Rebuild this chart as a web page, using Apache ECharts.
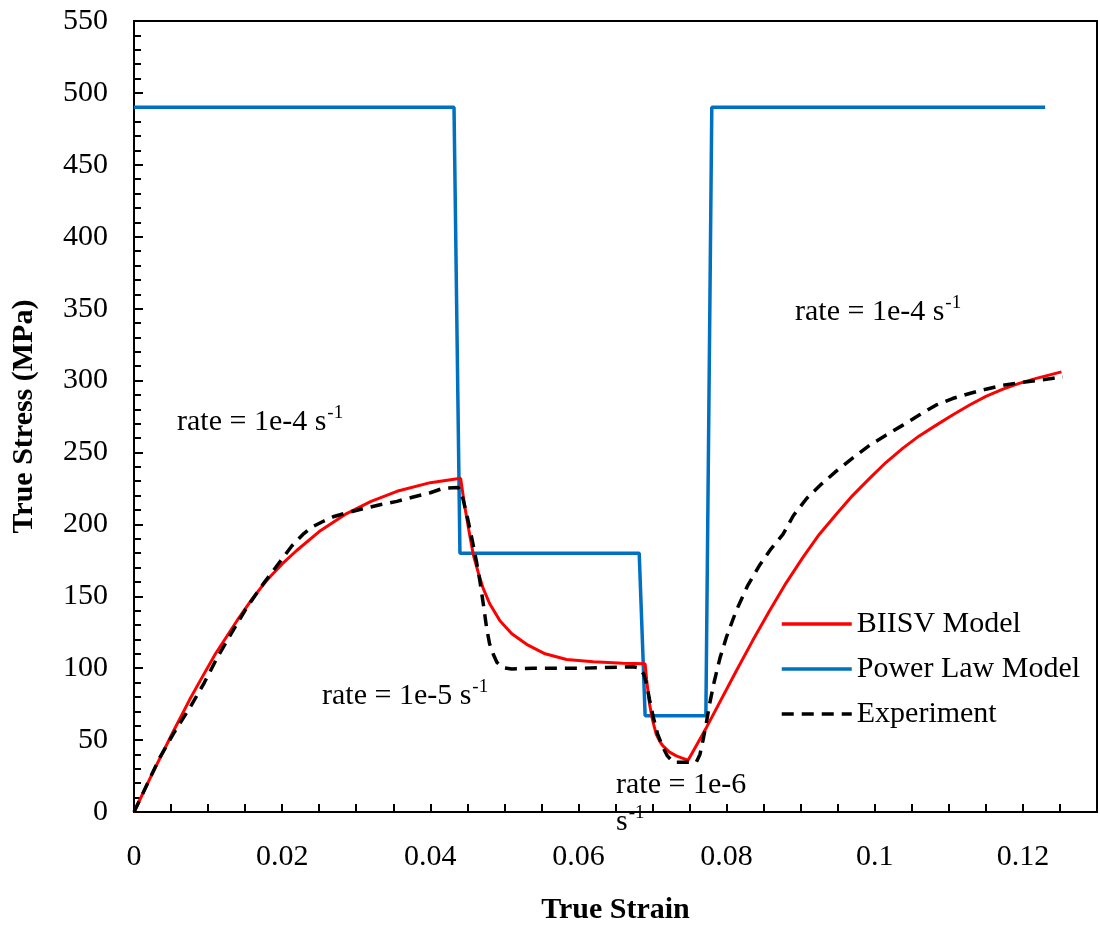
<!DOCTYPE html>
<html>
<head>
<meta charset="utf-8">
<script src="https://cdn.jsdelivr.net/npm/echarts@6/dist/echarts.min.js"></script>
<style>
html,body{margin:0;padding:0;background:#fff;}
#chart{width:1100px;height:930px;}
</style>
</head>
<body>
<div id="chart"></div>
<script>
// ---- Data ----
const biisvStrain = [0, 0.0025, 0.0053, 0.0075, 0.0089, 0.011, 0.0139, 0.016, 0.0179, 0.02, 0.022, 0.025, 0.0287, 0.032, 0.0355, 0.04, 0.0441,
  0.0446, 0.0452, 0.0458, 0.0465, 0.0471, 0.048, 0.0494, 0.051, 0.053, 0.0555, 0.0584, 0.062, 0.066, 0.069,
  0.0692, 0.0696, 0.07, 0.0705, 0.071, 0.0714, 0.0723, 0.0732, 0.074, 0.0748,
  0.0773, 0.0813, 0.0835, 0.0858, 0.088, 0.0903, 0.0925, 0.0948, 0.097, 0.0993, 0.1015, 0.1038, 0.106, 0.1083, 0.1105, 0.1128, 0.115, 0.1173, 0.1195, 0.1218, 0.1252];
const biisvStress = [0, 27, 56, 78, 91, 110, 133, 148.5, 161, 172.5, 182, 195, 207.5, 216, 223, 229, 232,
  214, 196, 179, 166, 156, 145, 133, 124, 116.6, 110, 106, 104.5, 103.5, 103,
  92, 75, 64, 54, 49, 46, 41.6, 39, 37.5, 36,
  59, 98, 119, 140, 159, 177, 193, 207, 220, 232, 243, 253, 261.5, 269, 276, 283, 289, 294, 298, 301.5, 306];

const powerStrain = [0, 0.0432, 0.044, 0.0682, 0.069, 0.0772, 0.078, 0.123];
const powerStress = [490, 490, 180, 180, 67, 67, 490, 490];

const expStrain = [0, 0.0035, 0.0055, 0.0076, 0.0095, 0.0112, 0.013, 0.0152, 0.0175, 0.0197, 0.0213, 0.0228, 0.024, 0.0255, 0.027, 0.0287, 0.031, 0.0332, 0.0355, 0.0377, 0.04, 0.0417, 0.0438,
  0.0441, 0.0444, 0.045, 0.0456, 0.0462, 0.0467, 0.0472, 0.0476, 0.048, 0.0485, 0.049, 0.0498, 0.051, 0.0539, 0.0606, 0.0674,
  0.0683, 0.0688, 0.0692, 0.0696, 0.0701, 0.0707, 0.0714, 0.072, 0.0728, 0.0759,
  0.0764, 0.0768, 0.0772, 0.0777, 0.0783, 0.0791, 0.08, 0.0813, 0.0828, 0.0845, 0.086, 0.0876, 0.089, 0.0908, 0.0928, 0.0948, 0.097, 0.0993, 0.1015, 0.1038, 0.106, 0.1083, 0.1105, 0.1128, 0.115, 0.1173, 0.1195, 0.1218, 0.1254];
const expStress = [0, 38, 56, 73, 90, 107, 123, 142, 159, 174, 185, 193, 198, 202, 205.5, 208, 211, 213.6, 216, 219, 222, 225, 225.6,
  223, 218, 205, 190.5, 175, 160.5, 143, 128, 117, 109.7, 104, 100.4, 99.5, 100, 100, 101,
  100, 96, 89, 78, 66, 54, 45, 39, 34.6, 34.6,
  40, 49.6, 60, 75, 90, 107, 122, 140, 157, 172, 183, 193, 206, 218, 228, 237, 246, 255, 262, 269, 276, 283, 287.5, 291, 294, 296.7, 298.5, 300, 302.5];

const seriesNames = ['BIISV Model', 'Power Law Model', 'Experiment'];
const xTitle = 'True Strain';
const yTitle = 'True Stress (MPa)';
const annotations = [
  {left: 177, top: 404, text: '{a|rate = 1e-4 s}{b|-1}'},
  {left: 795, top: 294, text: '{a|rate = 1e-4 s}{b|-1}'},
  {left: 322, top: 678, text: '{a|rate = 1e-5 s}{b|-1}'},
  {left: 616, top: 770, text: '{a|rate = 1e-6}\n{a|s}{b|-1}'}
];

const zip = (xs, ys) => xs.map((x, i) => [x, ys[i]]);
const FONT = '"Liberation Serif", "Times New Roman", serif';

const chart = echarts.init(document.getElementById('chart'), null, {renderer: 'canvas'});
chart.setOption({
  animation: false,
  backgroundColor: '#fff',
  grid: {left: 134, right: 3, top: 21, bottom: 115, show: true, borderColor: '#000', borderWidth: 2, containLabel: false},
  xAxis: {
    type: 'value', min: 0, max: 0.13, interval: 0.005,
    name: xTitle, nameLocation: 'middle', nameGap: 83,
    nameTextStyle: {fontFamily: FONT, fontSize: 30, fontWeight: 'bold', color: '#000'},
    axisLine: {show: true, onZero: false, lineStyle: {color: '#000', width: 2}},
    axisTick: {show: true, inside: true, length: 8, lineStyle: {color: '#000', width: 2}},
    axisLabel: {
      margin: 30, fontFamily: FONT, fontSize: 30, color: '#000',
      showMaxLabel: false,
      formatter: function (v) {
        const k = Math.round(v / 0.005);
        if (k % 4 === 0) return String(Number(v.toFixed(2)));
        return '';
      }
    },
    splitLine: {show: false}
  },
  yAxis: {
    type: 'value', min: 0, max: 550, interval: 50,
    name: yTitle, nameLocation: 'middle', nameGap: 95, nameRotate: 90,
    nameTextStyle: {fontFamily: FONT, fontSize: 30, fontWeight: 'bold', color: '#000'},
    axisLine: {show: true, onZero: false, lineStyle: {color: '#000', width: 2}},
    axisTick: {show: true, inside: true, length: 9, lineStyle: {color: '#000', width: 2}},
    minorTick: {show: true, splitNumber: 5, length: 7, lineStyle: {color: '#000', width: 2}},
    axisLabel: {margin: 26, fontFamily: FONT, fontSize: 30, color: '#000'},
    splitLine: {show: false},
    minorSplitLine: {show: false}
  },
  legend: {
    orient: 'vertical', left: 775, top: 604, itemWidth: 70, itemHeight: 14, itemGap: 15,
    textStyle: {fontFamily: FONT, fontSize: 30, color: '#000'},
    itemStyle: {opacity: 0},
    lineStyle: {width: 3.5},
    data: seriesNames
  },
  series: [
    {name: seriesNames[0], type: 'line', data: zip(biisvStrain, biisvStress), symbol: 'none', showSymbol: false,
     lineStyle: {color: '#FF0000', width: 3}, itemStyle: {color: '#FF0000'}, z: 3},
    {name: seriesNames[1], type: 'line', data: zip(powerStrain, powerStress), symbol: 'none', showSymbol: false,
     lineStyle: {color: '#0070C0', width: 3.5}, itemStyle: {color: '#0070C0'}, z: 2},
    {name: seriesNames[2], type: 'line', data: zip(expStrain, expStress), symbol: 'none', showSymbol: false,
     lineStyle: {color: '#000', width: 3.5, type: [12, 8]}, itemStyle: {color: '#000'}, z: 4}
  ],
  graphic: annotations.map(a => ({
    type: 'text', left: a.left, top: a.top, z: 100,
    style: {
      text: a.text,
      rich: {
        a: {fontFamily: FONT, fontSize: 30, fill: '#000', color: '#000', lineHeight: 37},
        b: {fontFamily: FONT, fontSize: 19, fill: '#000', color: '#000', verticalAlign: 'top', lineHeight: 37, padding: [0, 0, 12, 1]}
      }
    }
  }))
});
</script>
</body>
</html>
